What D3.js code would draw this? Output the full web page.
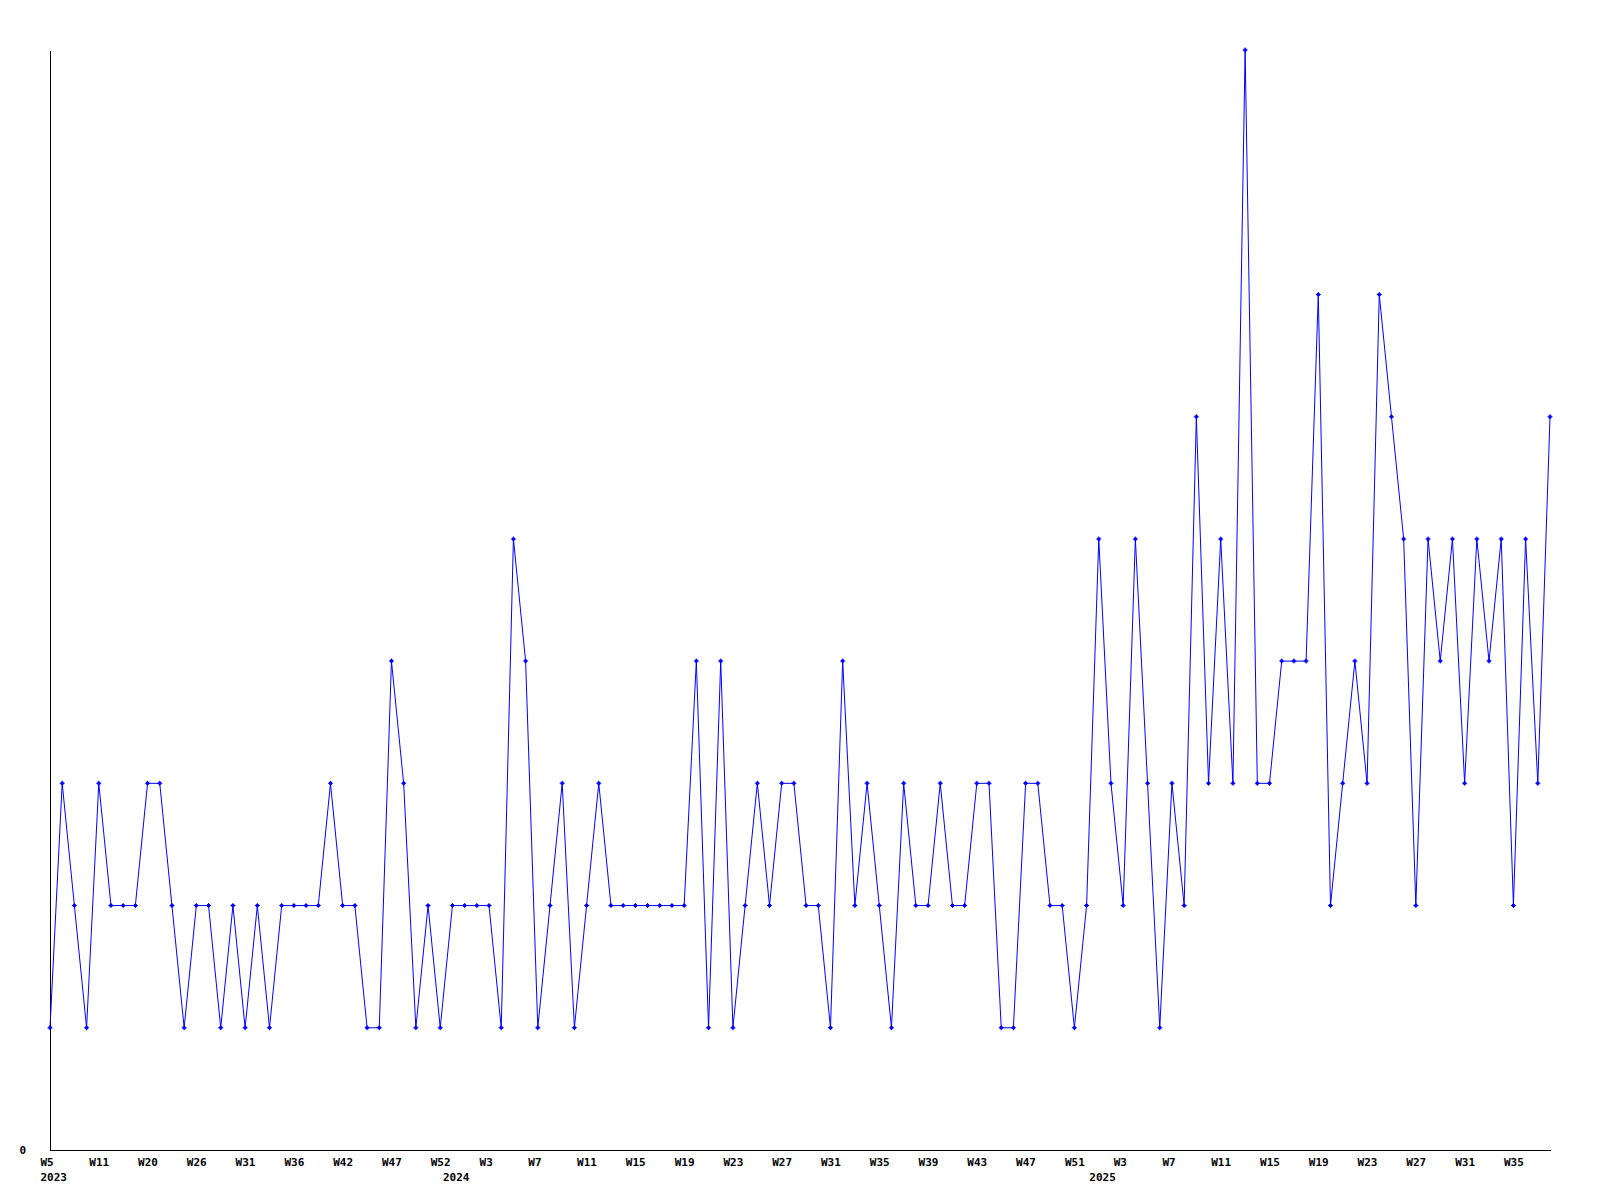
<!DOCTYPE html>
<html lang="en">
	<head>
		<meta charset="utf-8">
		<title>Weekly count</title>
		<style type="text/css">

		body {
			background-color: white;
			margin: 0px;
			padding: 0px;
		}

		.axis path {
			stroke: black;
			shape-rendering: crispEdges;
		}

		.axis text {
			fill: black;
			font-family: 'DejaVu Sans Mono', monospace;
			font-weight: bold;
			font-size: 11px;
		}

		.series {
			fill: none;
			stroke: #0000ff;
			stroke-width: 1px;
		}

		.marker {
			fill: #0000ff;
		}

		</style>
	</head>
	<body>
		<div id="chart"></div>

		<script src="https://d3js.org/d3.v7.min.js"></script>
		<script type="text/javascript">

			// week labels of each data point, per year
			const weeks2023 = ["W5","W6","W8","W9","W11","W13","W15","W17","W20","W21","W23","W24",
				"W26","W27","W28","W30","W31","W32","W33","W35","W36","W37","W39","W41",
				"W42","W43","W44","W46","W47","W48","W49","W51","W52"];
			const weeks2024 = d3.range(0, 53).map(function(d){ return "W" + d; });
			const weeks2025 = d3.range(1, 39).map(function(d){ return "W" + d; });

			const years = ["2023", "2024", "2025"];

			const counts = [
				1,3,2,1,3,2,2,2,3,3,
				2,1,2,2,1,2,1,2,1,2,
				2,2,2,3,2,2,1,1,4,3,
				1,2,1,2,2,2,2,1,5,4,
				1,2,3,1,2,3,2,2,2,2,
				2,2,2,4,1,4,1,2,3,2,
				3,3,2,2,1,4,2,3,2,1,
				3,2,2,3,2,2,3,3,1,1,
				3,3,2,2,1,2,5,3,2,5,
				3,1,3,2,6,3,5,3,9,3,
				3,4,4,4,7,2,3,4,3,7,
				6,5,2,5,4,5,3,5,4,5,
				2,5,3,6
			];

			const weekLabels = weeks2023.concat(weeks2024, weeks2025);
			const yearStarts = [0, weeks2023.length, weeks2023.length + weeks2024.length];

			const width = 1600,
				height = 1200,
				padding = [50, 50, 50, 50];

			const svg = d3.select("#chart")
				.append("svg")
				.attr("width", width)
				.attr("height", height);

			const xScale = d3.scalePoint()
				.domain(d3.range(counts.length))
				.range([padding[3], width - padding[1]]);

			const yScale = d3.scaleLinear()
				.domain([0, d3.max(counts)])
				.range([height - padding[2], padding[0]]);

			const xAxis = d3.axisBottom(xScale)
				.tickValues(xScale.domain().filter(function(d){ return d % 4 === 0; }))
				.tickSize(0)
				.tickPadding(8)
				.tickFormat(function(d){ return weekLabels[d]; });

			const yearAxis = d3.axisBottom(xScale)
				.tickValues(yearStarts)
				.tickSize(0)
				.tickPadding(23)
				.tickFormat(function(d, i){ return years[i]; });

			const yAxis = d3.axisLeft(yScale)
				.tickValues([0])
				.tickSize(0)
				.tickPadding(24);

			const gX = svg.append("g")
				.attr("class", "axis")
				.attr("transform", "translate(0," + (height - padding[2]) + ")")
				.call(xAxis);

			gX.selectAll("text")
				.attr("text-anchor", "start")
				.attr("dx", -10);

			const gYear = svg.append("g")
				.attr("class", "axis")
				.attr("transform", "translate(0," + (height - padding[2]) + ")")
				.call(yearAxis);

			gYear.select(".domain").remove();
			gYear.selectAll("text")
				.attr("text-anchor", "start")
				.attr("dx", -10);

			const gY = svg.append("g")
				.attr("class", "axis")
				.attr("transform", "translate(" + padding[3] + ",0)")
				.call(yAxis);

			gY.selectAll("text").attr("dy", "0.3em");

			const line = d3.line()
				.x(function(_, i){ return xScale(i); })
				.y(function(d){ return yScale(d); });

			svg.append("path")
				.datum(counts)
				.attr("class", "series")
				.attr("d", line);

			// small plus markers with a thick centre
			svg.selectAll(null)
				.data(counts)
				.enter()
				.append("path")
				.attr("class", "marker")
				.attr("transform", function(d, i){
					return "translate(" + xScale(i) + "," + yScale(d) + ")";
				})
				.attr("d", "M-0.5,-2.5h1v1h1v1h1v1h-1v1h-1v1h-1v-1h-1v-1h-1v-1h1v-1h1z");

		</script>
	</body>
</html>
